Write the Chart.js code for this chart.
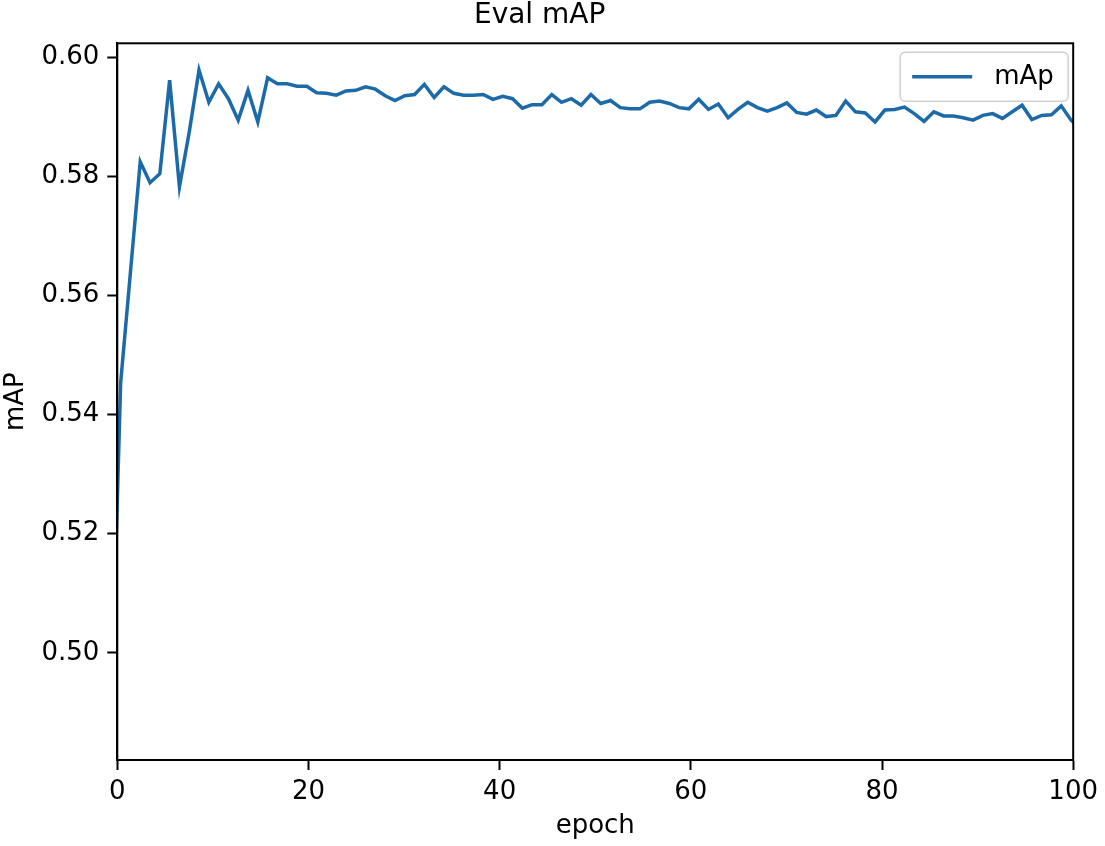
<!DOCTYPE html>
<html>
<head>
<meta charset="utf-8">
<title>Eval mAP</title>
<script src="https://cdn.jsdelivr.net/npm/chart.js@4.4.1/dist/chart.umd.min.js"></script>
<style>
  html, body { margin: 0; padding: 0; background: #fff; }
  #wrap { width: 1105px; height: 846px; }
</style>
</head>
<body>
<div id="wrap"><canvas id="mapChart" width="1105" height="846"></canvas></div>
<script>
// mAP per evaluation (first and last points fall outside 0..100)
const mapValues = [
  0.4875, 0.5453, 0.5639, 0.5824, 0.5789, 0.5804, 0.5961, 0.5782, 0.5874, 0.5978,
  0.5924, 0.5955, 0.5930, 0.5894, 0.5944, 0.5891, 0.5965, 0.5955, 0.5955, 0.5951,
  0.5951, 0.5940, 0.5939, 0.5936, 0.5943, 0.5944, 0.5950, 0.5946, 0.5935, 0.5927,
  0.5935, 0.5937, 0.5954, 0.5932, 0.5950, 0.5939, 0.5936, 0.5936, 0.5937, 0.5929,
  0.5934, 0.5930, 0.5914, 0.5920, 0.5920, 0.5937, 0.5924, 0.5930, 0.5919, 0.5937,
  0.5922, 0.5927, 0.5915, 0.5913, 0.5913, 0.5924, 0.5926, 0.5922, 0.5915, 0.5913,
  0.5929, 0.5912, 0.5921, 0.5898, 0.5912, 0.5924, 0.5915, 0.5909, 0.5915, 0.5923,
  0.5907, 0.5904, 0.5911, 0.5900, 0.5902, 0.5926, 0.5908, 0.5906, 0.5891, 0.5911,
  0.5912, 0.5916, 0.5905, 0.5892, 0.5908, 0.5901, 0.5901, 0.5898, 0.5894, 0.5902,
  0.5905, 0.5897, 0.5908, 0.5919, 0.5895, 0.5902, 0.5903, 0.5918, 0.5894, 0.5880
];
// epoch position of each point: evenly spaced, first one sits just left of 0
const epochStart = -0.675;
const epochStep = 1.025;
const epochs = mapValues.map((_, i) => epochStart + epochStep * i);

const xTicks = [0, 20, 40, 60, 80, 100];
const yTicks = [0.50, 0.52, 0.54, 0.56, 0.58, 0.60];
const seriesLabel = 'mAp';

const lineColor = '#1c6aa8';
Chart.defaults.font.family = '"DejaVu Sans", sans-serif';
Chart.defaults.color = '#000';

// frame on all four sides + matplotlib-like legend inside the axes
const framePlugin = {
  id: 'frame',
  afterDatasetsDraw(chart) {
    const { ctx, chartArea: a } = chart;
    ctx.save();
    ctx.strokeStyle = '#000';
    ctx.lineWidth = 2;
    ctx.strokeRect(a.left, a.top, a.right - a.left, a.bottom - a.top);

    // legend box
    const w = 168, h = 49;
    const bx = a.right - 5 - w, by = a.top + 9;
    ctx.beginPath();
    ctx.roundRect(bx, by, w, h, 5);
    ctx.fillStyle = 'rgba(255,255,255,0.8)';
    ctx.fill();
    ctx.strokeStyle = '#d0d0d0';
    ctx.lineWidth = 1.5;
    ctx.stroke();

    const cy = by + h / 2;
    ctx.beginPath();
    ctx.moveTo(bx + 12, cy);
    ctx.lineTo(bx + 72, cy);
    ctx.strokeStyle = lineColor;
    ctx.lineWidth = 3.5;
    ctx.stroke();

    ctx.fillStyle = '#000';
    ctx.font = '26px "DejaVu Sans"';
    ctx.textBaseline = 'middle';
    ctx.textAlign = 'left';
    ctx.fillText(seriesLabel, bx + 94, cy);
    ctx.restore();
  }
};

new Chart(document.getElementById('mapChart'), {
  type: 'line',
  data: {
    datasets: [{
      label: seriesLabel,
      data: epochs.map((e, i) => ({ x: e, y: mapValues[i] })),
      borderColor: lineColor,
      borderWidth: 3.5,
      pointRadius: 0,
      tension: 0,
      fill: false,
      clip: 0
    }]
  },
  options: {
    responsive: false,
    animation: false,
    layout: { padding: { left: 0, right: 25.7, top: 0, bottom: 0 } },
    plugins: {
      legend: { display: false },
      tooltip: { enabled: false },
      title: {
        display: true,
        text: 'Eval mAP',
        font: { size: 28, weight: 'normal', lineHeight: 1.1 },
        padding: { top: 0, bottom: 12.5 }
      }
    },
    scales: {
      x: {
        type: 'linear',
        min: 0,
        max: 100,
        afterFit: s => { s.height = 86; },
        afterBuildTicks: s => { s.ticks = xTicks.map(v => ({ value: v })); },
        ticks: { font: { size: 26 }, padding: 7, maxRotation: 0 },
        grid: { drawOnChartArea: false, drawTicks: true, tickLength: 10, tickColor: '#000', tickWidth: 2 },
        border: { display: true, color: '#000', width: 2 },
        title: { display: true, text: 'epoch', font: { size: 26 }, padding: { top: 0 } }
      },
      y: {
        type: 'linear',
        min: 0.482,
        max: 0.6023,
        afterFit: s => { s.width = 117.3; },
        afterBuildTicks: s => { s.ticks = yTicks.map(v => ({ value: v })); },
        ticks: { font: { size: 26 }, padding: 8, callback: v => v.toFixed(2) },
        grid: { drawOnChartArea: false, drawTicks: true, tickLength: 10, tickColor: '#000', tickWidth: 2 },
        border: { display: true, color: '#000', width: 2 },
        title: { display: true, text: 'mAP', font: { size: 26 }, padding: { top: 1 } }
      }
    }
  },
  plugins: [framePlugin]
});
</script>
</body>
</html>
